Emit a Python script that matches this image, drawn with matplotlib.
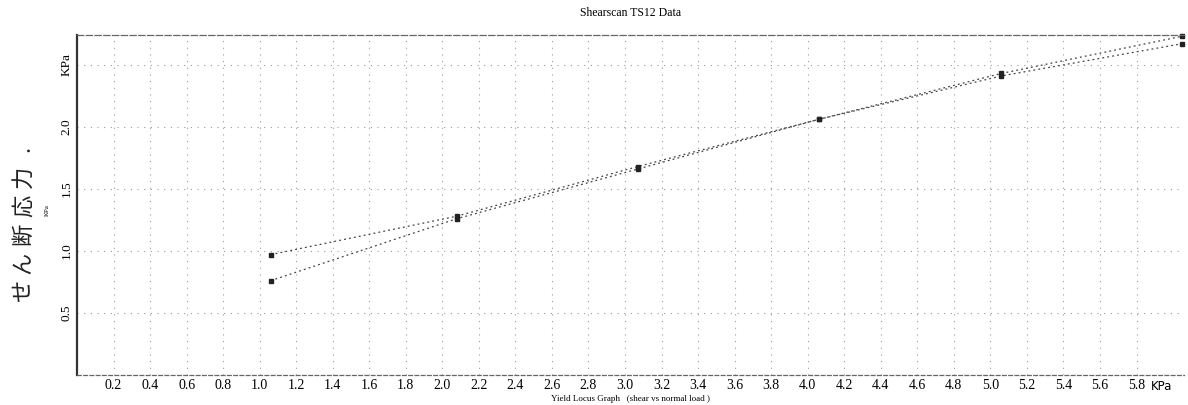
import numpy as np
import matplotlib
matplotlib.use('Agg')
import matplotlib.pyplot as plt

# Shearscan TS12 data
normal_load = [1.06, 2.08, 3.07, 4.06, 5.06, 6.05]
shear_run1 = [0.97, 1.28, 1.68, 2.06, 2.41, 2.67]
shear_run2 = [0.76, 1.26, 1.66, 2.06, 2.43, 2.73]

x_ticks = [round(0.2 * i, 1) for i in range(1, 30)]
x_labels = ['%.1f' % v for v in x_ticks]
y_ticks = [0.5, 1.0, 1.5, 2.0, 2.5]
y_labels = ['0.5', '1.0', '1.5', '2.0', 'KPa']
y_title = 'せん断応力.'

serif = 'Liberation Serif'

fig = plt.figure(figsize=(11.88, 4.05), dpi=100)
ax = fig.add_axes([77 / 1188, 30 / 405, 1107 / 1188, 340 / 405])

# grid first, so the data sits on top
ax.set_axisbelow(True)
ax.grid(True, color='#999999', linestyle=(0, (1, 5)), linewidth=0.8)

for ys in (shear_run1, shear_run2):
    ax.plot(normal_load, ys, color='#444444', linestyle=(0, (1.5, 2.5)), linewidth=0.9,
            marker='s', markersize=3.5, markerfacecolor='#222222', markeredgecolor='#222222',
            clip_on=False)

ax.set_xlim(0, 6.06)
ax.set_ylim(0, 2.74)
ax.set_xticks(x_ticks)
ax.set_xticklabels(x_labels, fontfamily=serif, fontsize=10)
ax.set_yticks(y_ticks)
ax.set_yticklabels(y_labels, fontfamily=serif, fontsize=9.5, rotation=90, va='center')
ax.tick_params(length=0, pad=3)

# spines like the scanned original
ax.spines['left'].set_linewidth(1.6)
ax.spines['left'].set_color('#333333')
ax.spines['bottom'].set_linestyle((0, (3, 2)))
ax.spines['bottom'].set_color('#666666')
ax.spines['bottom'].set_linewidth(0.9)
ax.spines['top'].set_linestyle((0, (5, 2)))
ax.spines['top'].set_color('#666666')
ax.spines['top'].set_linewidth(0.9)
ax.spines['right'].set_visible(False)

ax.set_title('Shearscan TS12 Data', fontfamily=serif, fontsize=8.5, pad=14)
ax.set_xlabel('Yield Locus Graph   (shear vs normal load )', fontfamily=serif, fontsize=6.5, labelpad=2)

fig.text(1162 / 1188, 1 - 387 / 405, 'KPa', fontsize=8.5, ha='center', va='center')

# vertical Japanese label, spaced out like the original
for i, ch in enumerate(y_title):
    fig.text(23 / 1188, 1 - (291 - 28.5 * i) / 405, ch, family=['Noto Sans CJK JP', 'DejaVu Sans'],
             fontsize=16, rotation=90, ha='center', va='center', color='#222222')
fig.text(47 / 1188, 1 - 210 / 405, 'KPa', fontfamily=serif, fontsize=5, rotation=90,
         ha='center', va='center')

fig.savefig('out.png', dpi=100)
